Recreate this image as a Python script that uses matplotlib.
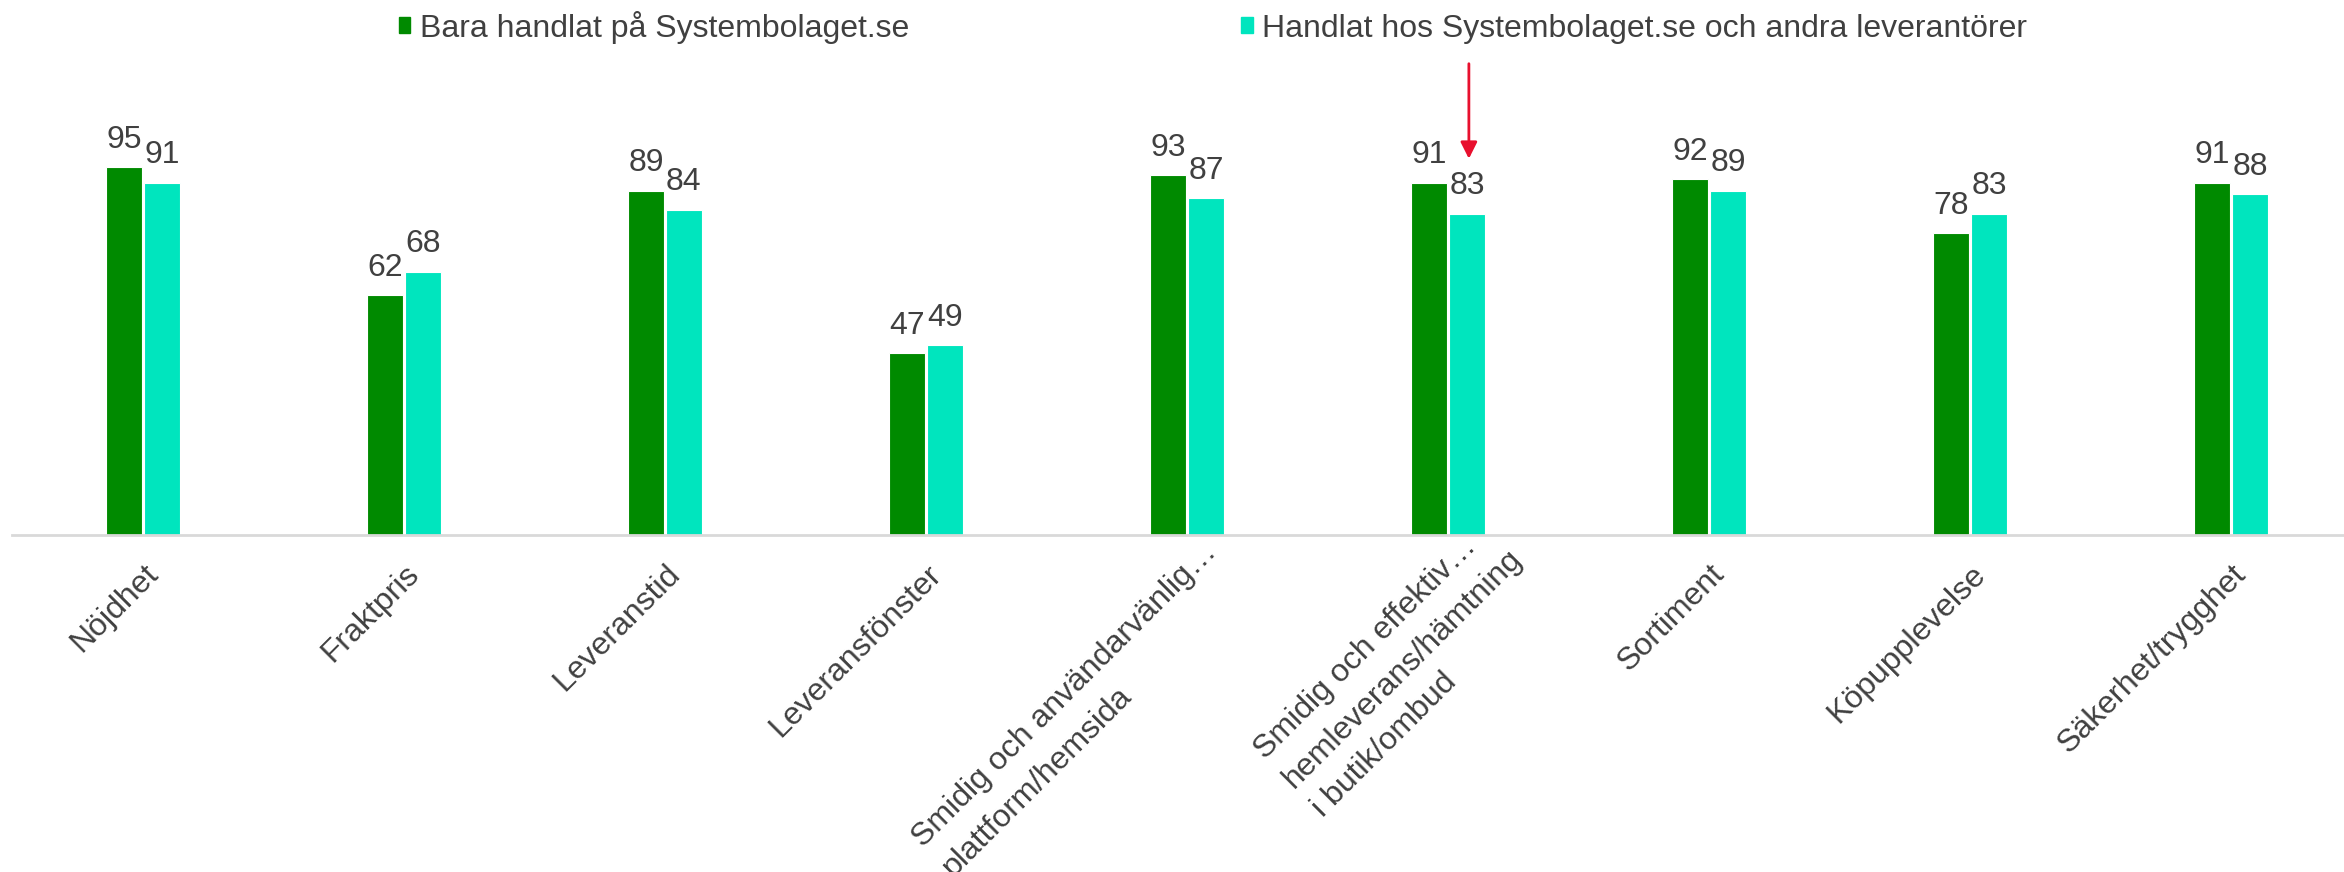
import numpy as np
import matplotlib.pyplot as plt
from matplotlib.patches import Patch
from matplotlib.transforms import ScaledTranslation

# data
categories = ['Nöjdhet', 'Fraktpris', 'Leveranstid', 'Leveransfönster',
              'Smidig och användarvänlig…\nplattform/hemsida',
              'Smidig och effektiv…\nhemleverans/hämtning\ni butik/ombud',
              'Sortiment', 'Köpupplevelse', 'Säkerhet/trygghet']
bara = [95, 62, 89, 47, 93, 91, 92, 78, 91]
andra = [91, 68, 84, 49, 87, 83, 89, 83, 88]
series_names = ['Bara handlat på Systembolaget.se',
                'Handlat hos Systembolaget.se och andra leverantörer']

green = '#008A00'
cyan = '#00E5BE'
txt = '#404040'

plt.rcParams['font.family'] = ['Liberation Sans', 'DejaVu Sans']

fig = plt.figure(figsize=(23.44, 8.72), dpi=100)
ax = fig.add_axes([12/2344, 1-535/872, 1-12/2344, 387/872])

x = np.arange(len(categories))
w = 0.138
b1 = ax.bar(x - 0.0725, bara, w, color=green, edgecolor='white', linewidth=0.8)
b2 = ax.bar(x + 0.0725, andra, w, color=cyan, edgecolor='white', linewidth=0.8)

for bars in (b1, b2):
    for r in bars:
        ax.annotate(f'{r.get_height():.0f}', (r.get_x() + r.get_width()/2, r.get_height()),
                    xytext=(0, 14), textcoords='offset points', ha='center', va='baseline',
                    fontsize=23, color=txt)

ax.set_xlim(-0.502, 8.433)
ax.set_ylim(0, 100)
ax.set_yticks([])
for s in ['top', 'right', 'left']:
    ax.spines[s].set_visible(False)
ax.spines['bottom'].set_color('#D9D9D9')
ax.spines['bottom'].set_linewidth(2)
ax.set_xticks(x)
ax.set_xticklabels([])
ax.tick_params(axis='x', length=0)

# rotated category labels, boxes with more lines sit further up along the text
line_px = 42
for i, lab in enumerate(categories):
    n = lab.count('\n')
    shift = n * line_px / 2
    dx = 0.707 * shift
    dy = 24 - 0.707 * shift - 7.5 * n
    tr = ax.get_xaxis_transform() + ScaledTranslation(dx/100, -dy/100, fig.dpi_scale_trans)
    ax.text(i, 0, lab, transform=tr, rotation=45, rotation_mode='anchor', ha='right', va='top',
            multialignment='left', linespacing=1.5, fontsize=23, color=txt)

# arrow pointing at the 83 label
ax.annotate('', xy=(5.08, 96.5), xytext=(5.08, 122.5),
            arrowprops=dict(arrowstyle='-|>', color='#E8102E', lw=2, mutation_scale=25),
            annotation_clip=False)

handles = [Patch(color=green), Patch(color=cyan)]
fig.legend(handles, series_names, loc='center', bbox_to_anchor=(1213/2344, 1-27/872), ncol=2,
           frameon=False, fontsize=23, labelcolor=txt, handlelength=0.36, handleheight=0.36,
           handletextpad=0.3, columnspacing=10.4)

fig.savefig('out.png', dpi=100)
